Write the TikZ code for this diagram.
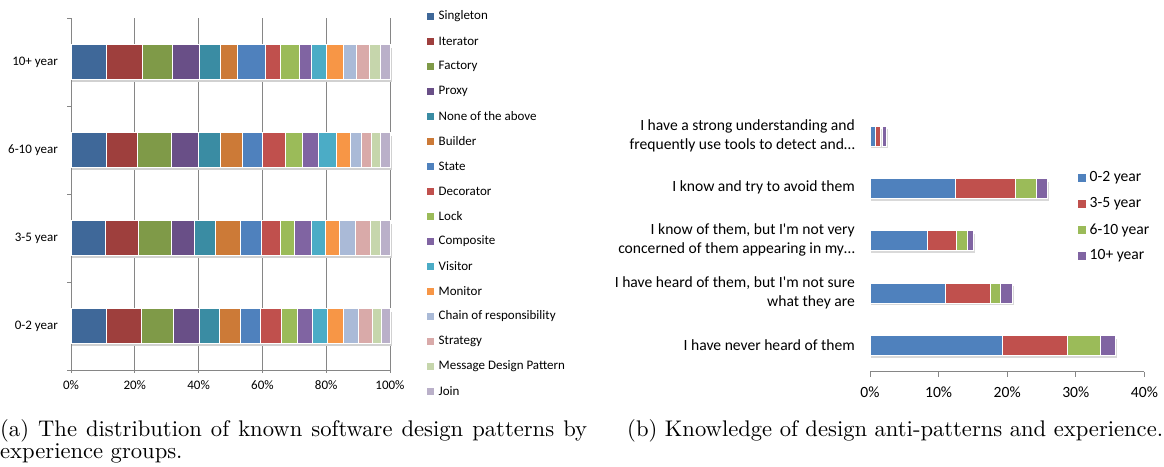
\documentclass[tikz,border=0pt]{standalone}
\usepackage{fontspec}
\usepackage{graphicx}
\newfontfamily\calfont{Carlito}
\definecolor{s1}{HTML}{3F6899}
\definecolor{s2}{HTML}{9E3F3D}
\definecolor{s3}{HTML}{7F9A48}
\definecolor{s4}{HTML}{694F87}
\definecolor{s5}{HTML}{3A8CA3}
\definecolor{s6}{HTML}{CC7A37}
\definecolor{s7}{HTML}{4F81BD}
\definecolor{s8}{HTML}{C0504D}
\definecolor{s9}{HTML}{9BBB59}
\definecolor{s10}{HTML}{8064A2}
\definecolor{s11}{HTML}{4BACC6}
\definecolor{s12}{HTML}{F79646}
\definecolor{s13}{HTML}{AABAD7}
\definecolor{s14}{HTML}{D9AAA9}
\definecolor{s15}{HTML}{C6D6AC}
\definecolor{s16}{HTML}{BAB0C9}
\definecolor{r1}{HTML}{4F81BD}
\definecolor{r2}{HTML}{C0504D}
\definecolor{r3}{HTML}{9BBB59}
\definecolor{r4}{HTML}{8064A2}
\definecolor{axisgray}{HTML}{868686}
\newcommand\mkleftbar[2]{%
  \fill[black!18] (72,#1-14) rectangle (392,#1+19.5);
  \foreach \b [count=\i, remember=\b as \a (initially 0)] in {#2} {
    \fill[s\i, draw=white, line width=0.9pt] ({71+\a*3.19},#1-17.25) rectangle ({71+\b*3.19},#1+17.25);
  }
}
\newcommand\mkrightbar[2]{%
  \fill[black!15] (871,#1-7) rectangle ({870+\lastp*6.86+1.5},#1+12);
  \foreach \a/\b/\c in {#2} {
    \fill[\c, draw=white, line width=0.9pt] ({870+\a*6.86},#1-10) rectangle ({870+\b*6.86},#1+10);
  }
}
\begin{document}
\begin{tikzpicture}[x=1pt,y=-1pt,
  lab/.style={font=\calfont\fontsize{13}{15}\selectfont, inner sep=0pt},
  rlab/.style={font=\calfont\fontsize{15.6}{19}\selectfont, inner sep=0pt, align=right, anchor=east},
  gridline/.style={draw=axisgray, line width=0.9pt},
  captext/.style={inner sep=0pt, anchor=west}]
\useasboundingbox (0,0) rectangle (1164,466);
% ---------- left chart ----------
\foreach \p in {20,40,60,80,100} { \draw[gridline] ({71+\p*3.19},18) -- ({71+\p*3.19},373); }
\draw[gridline] (71,18) -- (71,373);
\draw[gridline] (71,370) -- (390,370);
\foreach \yy in {18,106,194,282,370} { \draw[gridline] (67,\yy) -- (71,\yy); }
\mkleftbar{62}{11.08,22.36,31.66,40.23,46.92,52.25,60.92,65.52,71.47,75.44,80.15,85.37,89.34,93.42,96.87,100}
\mkleftbar{150}{11.18,20.79,31.45,40.02,46.92,53.61,59.98,67.29,72.62,77.53,83.28,87.67,91.12,94.25,97.07,100}
\mkleftbar{238}{10.76,21.11,31.35,38.77,45.14,53.19,59.56,65.62,70.11,75.24,79.62,84.12,89.13,93.94,96.87,100}
\mkleftbar{326}{11.18,22.05,32.08,40.23,46.39,52.98,59.25,66.04,70.85,75.76,80.46,85.37,90.18,94.46,97.39,100}
\node[lab, anchor=east] (c10) at (58,62) {10+ year};
\node[lab, anchor=east] (c6) at (58,150) {6-10 year};
\node[lab, anchor=east] (c3) at (58,238) {3-5 year};
\node[lab, anchor=east] (c0) at (58,326) {0-2 year};
\foreach \p [count=\k] in {0,20,40,60,80,100} { \node[lab] (lx\k) at ({71+\p*3.19},385) {\p\%}; }
% legend left
\foreach \t [count=\i] in {Singleton,Iterator,Factory,Proxy,None of the above,Builder,State,Decorator,Lock,Composite,Visitor,Monitor,Chain of responsibility,Strategy,Message Design Pattern,Join} {
  \fill[s\i] (427,{16+(\i-1)*25-3.5}) rectangle (434,{16+(\i-1)*25+3.5});
  \node[lab, anchor=west] (lg\i) at (438.5,{16+(\i-1)*25}) {\t};
}
% ---------- right chart ----------
\draw[gridline] (870,371.7) -- (1144.4,371.7);
\foreach \p [count=\k] in {0,10,20,30,40} {
  \draw[gridline] ({870+\p*6.86},371.7) -- ({870+\p*6.86},376.7);
  \node[font=\calfont\fontsize{15.6}{19}\selectfont, inner sep=0pt] (rx\k) at ({870+\p*6.86},392.5) {\p\%};
}
\def\lastp{2.35}
\mkrightbar{136}{0/0.8/r1, 0.85/1.5/r2, 1.75/2.35/r4}
\def\lastp{25.86}
\mkrightbar{188.5}{0/12.49/r1, 12.49/21.24/r2, 21.24/24.3/r3, 24.3/25.86/r4}
\def\lastp{15.07}
\mkrightbar{240.7}{0/8.36/r1, 8.36/12.54/r2, 12.54/14.19/r3, 14.19/15.07/r4}
\def\lastp{20.75}
\mkrightbar{293.3}{0/10.94/r1, 10.94/17.5/r2, 17.5/19.05/r3, 19.05/20.75/r4}
\def\lastp{35.72}
\mkrightbar{345.7}{0/19.34/r1, 19.34/28.77/r2, 28.77/33.54/r3, 33.54/35.72/r4}
\node[rlab] (q1) at (855,136) {I have a strong understanding and\\frequently use tools to detect and\dots};
\node[rlab] (q2) at (855,187.5) {I know and try to avoid them};
\node[rlab] (q3) at (855,240) {I know of them, but I'm not very\\concerned of them appearing in my\dots};
\node[rlab] (q4) at (855,292.5) {I have heard of them, but I'm not sure\\what they are};
\node[rlab] (q5) at (855,345.5) {I have never heard of them};
% legend right
\foreach \t [count=\i] in {0-2 year,3-5 year,6-10 year,10+ year} {
  \fill[r\i] (1078,{178+(\i-1)*26-4}) rectangle (1086,{178+(\i-1)*26+4});
  \node[font=\calfont\fontsize{15.6}{19}\selectfont, inner sep=0pt, anchor=west] (rl\i) at (1089.5,{178+(\i-1)*26}) {\t};
}
% ---------- captions ----------
\node[captext] (capa1) at (0,431) {\scalebox{2.26}{\fontsize{10}{12}\selectfont\makebox[259.7pt][s]{(a) The distribution of known software design patterns by}}};
\node[captext] (capa2) at (0,453) {\scalebox{2.26}{\fontsize{10}{12}\selectfont experience groups.}};
\node[captext] (capb) at (627,431) {\scalebox{2.26}{\fontsize{10}{12}\selectfont (b) Knowledge of design anti-patterns and experience.}};
\end{tikzpicture}
\end{document}
